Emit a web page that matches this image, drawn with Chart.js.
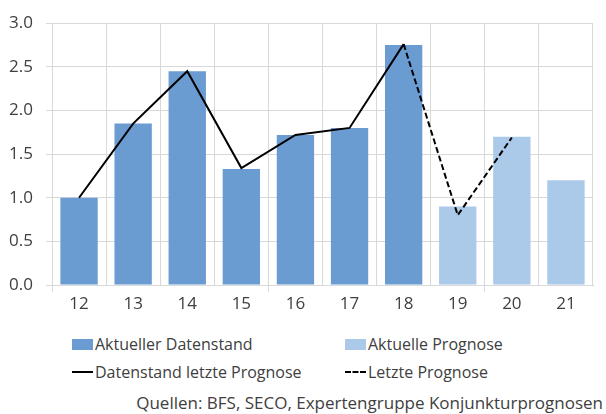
<!DOCTYPE html>
<html>
<head>
<meta charset="utf-8">
<script src="https://cdn.jsdelivr.net/npm/chart.js@4"></script>
<style>
  html, body { margin: 0; padding: 0; background: #fff; }
  #wrap { position: relative; width: 606px; height: 414px; font-family: 'Open Sans', sans-serif; color: #404040; }
  #chart-box { position: absolute; left: 0; top: 0; width: 606px; height: 310px; }
  .lg-item { position: absolute; display: flex; align-items: center; font-size: 16px; white-space: nowrap; }
  .lg-swatch { width: 21px; height: 11px; margin-right: 2px; }
  .lg-line { width: 21px; height: 0; margin-right: 2px; }
  #source { position: absolute; right: 3px; top: 391px; font-size: 17px; white-space: nowrap; }
</style>
</head>
<body>
<div id="wrap">
  <div id="chart-box"><canvas id="main-chart"></canvas></div>
  <div id="legend"></div>
  <div id="source">Quellen: BFS, SECO, Expertengruppe Konjunkturprognosen</div>
</div>
<script>
// Categories (years)
const years = ['12', '13', '14', '15', '16', '17', '18', '19', '20', '21'];

// Bar series
const actualData = [1.0, 1.85, 2.45, 1.33, 1.72, 1.80, 2.75, null, null, null];
const forecastData = [null, null, null, null, null, null, null, 0.9, 1.7, 1.2];

// Line series (last forecast)
const lastDataLine = [1.0, 1.85, 2.45, 1.34, 1.72, 1.80, 2.76, null, null, null];
const lastForecastLine = [null, null, null, null, null, null, 2.76, 0.8, 1.69, null];

// Y axis ticks
const yTicks = [0, 0.5, 1.0, 1.5, 2.0, 2.5, 3.0];

const gridColor = '#d9d9d9';
const textColor = '#404040';

Chart.defaults.font.family = "'Open Sans', sans-serif";
Chart.defaults.font.size = 17;
Chart.defaults.color = textColor;

const chart = new Chart(document.getElementById('main-chart'), {
  type: 'bar',
  data: {
    labels: years,
    datasets: [
      {
        type: 'bar',
        label: 'Aktueller Datenstand',
        data: actualData,
        backgroundColor: '#6a9bd1',
        order: 2
      },
      {
        type: 'bar',
        label: 'Aktuelle Prognose',
        data: forecastData,
        backgroundColor: '#abc9e9',
        order: 2
      },
      {
        type: 'line',
        label: 'Datenstand letzte Prognose',
        data: lastDataLine,
        borderColor: '#000',
        borderWidth: 2,
        pointRadius: 0,
        tension: 0,
        order: 1
      },
      {
        type: 'line',
        label: 'Letzte Prognose',
        data: lastForecastLine,
        borderColor: '#000',
        borderWidth: 2,
        borderDash: [6, 3],
        pointRadius: 0,
        tension: 0,
        order: 1
      }
    ]
  },
  options: {
    responsive: true,
    maintainAspectRatio: false,
    animation: false,
    layout: { padding: { top: 22, right: 13, left: 0, bottom: 0 } },
    datasets: {
      bar: { categoryPercentage: 1, barPercentage: 0.69 }
    },
    plugins: {
      legend: { display: false },
      tooltip: { enabled: false }
    },
    scales: {
      x: {
        stacked: true,
        offset: true,
        grid: {
          offset: true,
          color: gridColor,
          tickLength: 7,
          tickColor: ctx => (ctx.index % 4 === 0 ? gridColor : 'rgba(0,0,0,0)')
        },
        border: { color: gridColor },
        ticks: { padding: 2, maxRotation: 0 },
        afterFit: axis => { axis.height = 25; }
      },
      y: {
        min: 0,
        max: 3,
        afterBuildTicks: axis => { axis.ticks = yTicks.map(v => ({ value: v })); },
        grid: { color: gridColor, tickLength: 6 },
        border: { color: gridColor },
        ticks: {
          padding: 13,
          callback: v => Number(v).toFixed(1)
        },
        afterFit: axis => { axis.width = 52; }
      }
    }
  }
});

// HTML legend built from the chart's datasets
const legendPos = [
  { left: 72, top: 333 },   // Aktueller Datenstand
  { left: 345, top: 333 },  // Aktuelle Prognose
  { left: 72, top: 361 },   // Datenstand letzte Prognose
  { left: 345, top: 361 }   // Letzte Prognose
];
const legendEl = document.getElementById('legend');
chart.data.datasets.forEach((ds, i) => {
  const item = document.createElement('div');
  item.className = 'lg-item';
  item.style.left = legendPos[i].left + 'px';
  item.style.top = legendPos[i].top + 'px';
  const mark = document.createElement('span');
  if (ds.type === 'bar') {
    mark.className = 'lg-swatch';
    mark.style.background = ds.backgroundColor;
  } else {
    mark.className = 'lg-line';
    mark.style.borderTop = '2px ' + (ds.borderDash ? 'dashed' : 'solid') + ' ' + ds.borderColor;
  }
  const txt = document.createElement('span');
  txt.textContent = ds.label;
  item.appendChild(mark);
  item.appendChild(txt);
  legendEl.appendChild(item);
});
</script>
</body>
</html>
